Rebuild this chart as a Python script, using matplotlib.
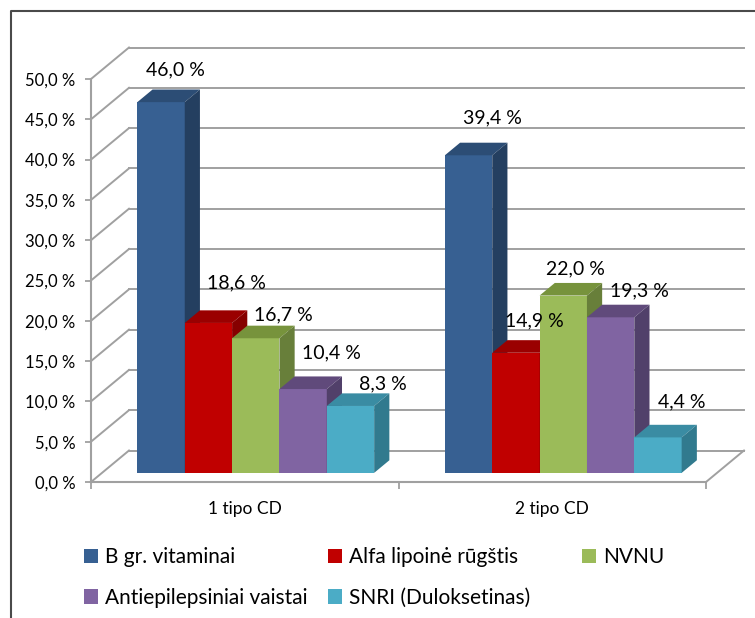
import numpy as np
import matplotlib
matplotlib.use("Agg")
import matplotlib.pyplot as plt
from matplotlib.patches import Polygon
from matplotlib.lines import Line2D

categories = ["1 tipo CD", "2 tipo CD"]
series_names = ["B gr. vitaminai", "Alfa lipoinė rūgštis", "NVNU",
                "Antiepilepsiniai vaistai", "SNRI (Duloksetinas)"]
b_vitaminai = [46.0, 39.4]
alfa_lipoine = [18.6, 14.9]
nvnu = [16.7, 22.0]
antiepilepsiniai = [10.4, 19.3]
snri = [8.3, 4.4]
y_ticks = [0, 5, 10, 15, 20, 25, 30, 35, 40, 45, 50]

all_series = [b_vitaminai, alfa_lipoine, nvnu, antiepilepsiniai, snri]

front_colors = ["#376092", "#C00000", "#9BBB59", "#8064A2", "#4BACC6"]
top_colors = ["#2C4D75", "#9A0000", "#77933C", "#604A7B", "#3A8CA3"]
side_colors = ["#243F60", "#860000", "#687F3A", "#51406A", "#317A8E"]

# label offsets in pixels (right, up) from the bar's back-top edge, per series / group
label_offsets = [[(14, 20), (24, 25)],
                 [(28, 27), (18, 19)],
                 [(28, 11), (12, 14)],
                 [(28, 24), (29, 14)],
                 [(32, 9), (24, 23)]]

plt.rcParams["font.family"] = ["Lato", "DejaVu Sans"]
grid_color = "#A0A0A0"

fig = plt.figure(figsize=(7.55, 6.18), dpi=100)
ax = fig.add_axes([91 / 755, 136 / 618, 615 / 755, 403 / 618])
ax.set_xlim(0, 2)
ax.set_ylim(0, 50)

# 3d depth of the plot box in data units
depth_x = 38 / 307.5
depth_y = 31.5 / 8.06
f0, f1 = 0.29, 0.69
bar_w = 0.154

# walls: side diagonals and back gridlines
for t in y_ticks:
    ax.plot([0, depth_x], [t, t + depth_y], color=grid_color, lw=1.4, clip_on=False, zorder=1)
    ax.plot([depth_x, 2 + depth_x], [t + depth_y, t + depth_y], color=grid_color, lw=1.4,
            clip_on=False, zorder=1)
ax.plot([2, 2 + depth_x], [0, depth_y], color=grid_color, lw=1.4, clip_on=False, zorder=1)

xs = np.arange(len(categories))
handles = []
for i, vals in enumerate(all_series):
    x = xs + 0.5 + (i - 2) * bar_w + f0 * depth_x
    bottom = f0 * depth_y
    dd = f1 - f0
    bars = ax.bar(x, vals, width=bar_w, bottom=bottom, color=front_colors[i],
                  zorder=3 + i, clip_on=False, label=series_names[i])
    handles.append(bars)
    for j, v in enumerate(vals):
        xl = x[j] - bar_w / 2
        xr = x[j] + bar_w / 2
        top = v + bottom
        top_poly = [(xl, top), (xr, top), (xr + dd * depth_x, top + dd * depth_y),
                    (xl + dd * depth_x, top + dd * depth_y)]
        side_poly = [(xr, bottom), (xr + dd * depth_x, bottom + dd * depth_y),
                     (xr + dd * depth_x, top + dd * depth_y), (xr, top)]
        ax.add_patch(Polygon(top_poly, closed=True, color=top_colors[i], zorder=3 + i,
                             clip_on=False, lw=0))
        ax.add_patch(Polygon(side_poly, closed=True, color=side_colors[i], zorder=3 + i,
                             clip_on=False, lw=0))
        txt = f"{v:.1f}".replace(".", ",") + " %"
        ox, oy = label_offsets[i][j]
        ax.annotate(txt, xy=(x[j], top + dd * depth_y), xytext=(ox, oy),
                    textcoords="offset pixels", ha="center", va="center",
                    fontsize=14, color="black", zorder=20, annotation_clip=False)

# axes styling
for s in ["top", "right"]:
    ax.spines[s].set_visible(False)
for s in ["left", "bottom"]:
    ax.spines[s].set_color("#A0A0A0")
    ax.spines[s].set_linewidth(1.5)
    ax.spines[s].set_zorder(2)
ax.set_yticks(y_ticks)
ax.set_yticklabels([f"{t:.1f}".replace(".", ",") + " %" for t in y_ticks])
ax.tick_params(axis="y", length=4, width=1.3, color="#A0A0A0", labelsize=12, pad=7)
ax.set_xticks([0, 1, 2])
ax.set_xticklabels([])
ax.tick_params(axis="x", which="major", length=5, width=1.3, color="#A0A0A0")
ax.set_xticks([0.5, 1.5], minor=True)
ax.set_xticklabels(categories, minor=True)
ax.tick_params(axis="x", which="minor", length=0, labelsize=12.5, pad=14)
ax.patch.set_visible(False)

# legend, one per column like the original layout
col_x = [84, 328, 582]
cols = [[0, 3], [1, 4], [2]]
for cx, idx in zip(col_x, cols):
    leg = fig.legend([handles[k] for k in idx], [series_names[k] for k in idx],
                     loc="upper left", bbox_to_anchor=(cx / 755, 1 - 547 / 618),
                     frameon=False, fontsize=15, handlelength=0.68, handleheight=0.68,
                     handletextpad=0.33, labelspacing=1.0, borderpad=0, borderaxespad=0)

# outer frame (cropped at right and bottom)
fig.add_artist(Line2D([11 / 755, 11 / 755, 1.0], [0.0, 1 - 11 / 618, 1 - 11 / 618],
                      transform=fig.transFigure, color="#4A4A4A", lw=1.5))

fig.savefig("out.png", dpi=100)
